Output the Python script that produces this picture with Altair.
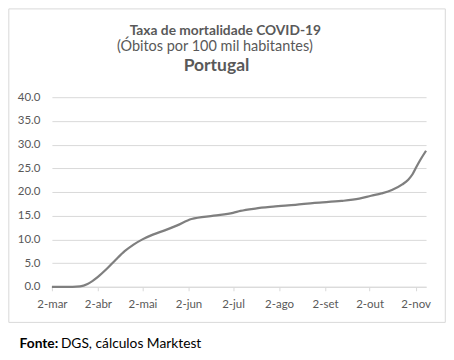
import altair as alt
import pandas as pd

# --- data (deaths per 100k inhabitants, Portugal 2020)
dates = ["2020-03-02", "2020-03-16", "2020-03-21", "2020-03-26", "2020-04-02",
         "2020-04-08", "2020-04-14", "2020-04-20", "2020-04-26", "2020-05-02",
         "2020-05-09", "2020-05-17", "2020-05-25", "2020-06-04", "2020-06-19",
         "2020-07-02", "2020-07-07", "2020-07-17", "2020-07-29", "2020-08-13",
         "2020-08-26", "2020-09-13", "2020-09-25", "2020-10-03", "2020-10-10",
         "2020-10-17", "2020-10-24", "2020-10-28", "2020-10-31", "2020-11-02",
         "2020-11-05", "2020-11-09"]
values = [0.0, 0.0, 0.1, 0.6, 2.1,
          3.8, 5.7, 7.5, 8.9, 10.0,
          11.0, 11.9, 12.9, 14.3, 15.0,
          15.6, 16.0, 16.5, 16.9, 17.3,
          17.7, 18.1, 18.6, 19.2, 19.7,
          20.4, 21.6, 22.6, 23.8, 25.0,
          26.7, 28.7]
y_ticks = [0, 5, 10, 15, 20, 25, 30, 35, 40]
x_tick_dates = ["2020-03-02", "2020-04-02", "2020-05-02", "2020-06-02", "2020-07-02",
                "2020-08-02", "2020-09-02", "2020-10-02", "2020-11-02"]
title_lines = ["Taxa de mortalidade COVID-19", "(Óbitos por 100 mil habitantes)", "Portugal"]
source_bold = "Fonte:"
source_rest = "DGS, cálculos Marktest"

df = pd.DataFrame({"date": dates, "value": values})

FONT = "Lato"
GREY = "#595959"
BORDER = "#d9d9d9"

def dt(s):
    y, m, d = s.split("-")
    return alt.DateTime(year=int(y), month=int(m), date=int(d), utc=True)

months_pt = "['jan','fev','mar','abr','mai','jun','jul','ago','set','out','nov','dez']"

line = alt.Chart(df).mark_line(color="#7f7f7f", strokeWidth=2.25, interpolate="monotone").encode(
    x=alt.X("date:T",
            scale=alt.Scale(type="utc", domain=[dt("2020-03-02"), dt("2020-11-09")]),
            axis=alt.Axis(values=[dt(s) for s in x_tick_dates],
                          labelExpr="utcdate(datum.value) + '-' + " + months_pt + "[utcmonth(datum.value)]",
                          title=None, grid=False, domainColor=BORDER, tickColor=BORDER,
                          tickSize=4, labelPadding=8, labelColor=GREY, labelFontSize=11.5,
                          labelFont=FONT, labelAngle=0, labelOverlap=False, labelFlush=False)),
    y=alt.Y("value:Q",
            scale=alt.Scale(domain=[0, 40], nice=False),
            axis=alt.Axis(values=y_ticks, format=".1f", title=None, domain=False, ticks=False,
                          gridColor=BORDER, labelPadding=12, labelColor=GREY,
                          labelFontSize=11.5, labelFont=FONT)),
)

def text_layer(txt, x, y, size, weight, color, align="center"):
    return alt.Chart(pd.DataFrame({"t": [txt]})).mark_text(
        font=FONT, fontSize=size, fontWeight=weight, color=color, align=align,
        baseline="alphabetic"
    ).encode(text="t:N", x=alt.value(x), y=alt.value(y))

one = pd.DataFrame({"a": [0]})
L, R, T, B = -43.2, 394.3, -88.5, 225.7
def hrule(y):
    return alt.Chart(one).mark_rule(color=BORDER, strokeWidth=1).encode(
        x=alt.value(L), x2=alt.value(R), y=alt.value(y))
def vrule(x):
    return alt.Chart(one).mark_rule(color=BORDER, strokeWidth=1).encode(
        x=alt.value(x), y=alt.value(T), y2=alt.value(B))

chart = alt.layer(
    hrule(T), hrule(B), vrule(L), vrule(R),
    line,
    text_layer(title_lines[0], 173.8, -62.5, 13.8, "bold", GREY),
    text_layer(title_lines[1], 163.3, -46, 14.5, "normal", GREY),
    text_layer(title_lines[2], 165, -26.5, 17.5, "bold", GREY),
    text_layer(source_bold, -32.4, 251.3, 13.8, "bold", "#000000", align="left"),
    text_layer(source_rest, 9, 251.3, 13.8, "normal", "#000000", align="left"),
).properties(
    width=375, height=190,
    padding={"left": 44, "top": 89, "right": 20, "bottom": 72},
    autosize=alt.AutoSizeParams(type="none"),
).configure_view(stroke=None)

chart.save("out.html", embed_options={"renderer": "svg", "actions": False})
